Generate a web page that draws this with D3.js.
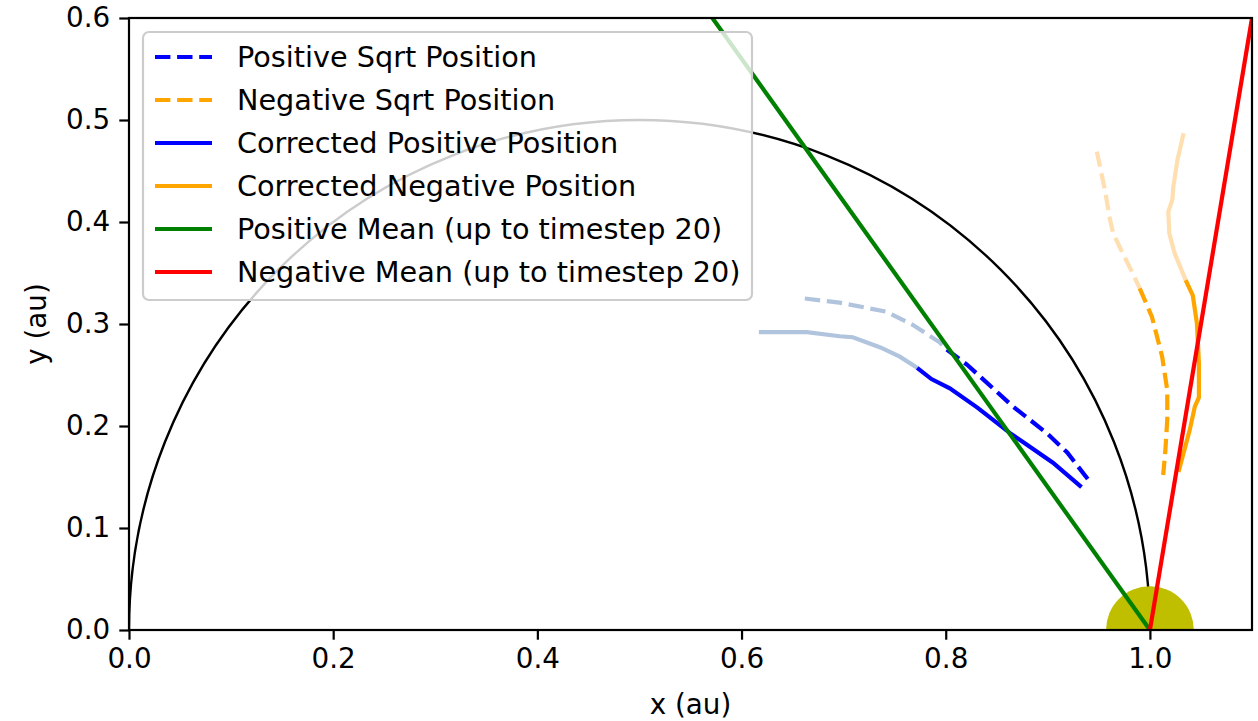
<!DOCTYPE html>
<html>
<head>
<meta charset="utf-8">
<script src="https://cdn.jsdelivr.net/npm/d3@7"></script>
<style>
  body { margin: 0; background: #fff; }
  text { font-family: "DejaVu Sans", sans-serif; fill: #000; }
</style>
</head>
<body>
<script>
//orbit positions plot, positive / negative sqrt solutions

//positive sqrt position [x, y] in au
var posSqrt = [[0.662, 0.325], [0.696, 0.321], [0.742, 0.312], [0.768, 0.299], [0.794, 0.282],
    [0.801, 0.275], [0.821, 0.260], [0.866, 0.219], [0.899, 0.193], [0.919, 0.174], [0.943, 0.143]];
//negative sqrt position
var negSqrt = [[0.948, 0.469], [0.956, 0.431], [0.961, 0.402], [0.964, 0.389], [0.973, 0.370],
    [0.983, 0.350], [0.990, 0.335], [1.002, 0.307], [1.012, 0.268], [1.017, 0.235],
    [1.017, 0.206], [1.015, 0.174], [1.013, 0.152]];
//corrected positive position
var posCorr = [[0.617, 0.292], [0.664, 0.292], [0.696, 0.288], [0.709, 0.287], [0.736, 0.277],
    [0.755, 0.268], [0.772, 0.257], [0.786, 0.246], [0.804, 0.237], [0.831, 0.218],
    [0.863, 0.193], [0.876, 0.184], [0.905, 0.164], [0.933, 0.140]];
//corrected negative position
var negCorr = [[1.033, 0.487], [1.027, 0.461], [1.023, 0.435], [1.022, 0.422], [1.018, 0.410],
    [1.019, 0.389], [1.024, 0.370], [1.035, 0.343], [1.042, 0.328], [1.046, 0.301],
    [1.048, 0.262], [1.048, 0.228], [1.044, 0.219], [1.039, 0.196], [1.032, 0.170], [1.028, 0.155]];

//index where the faded (early) part stops and the full colour starts
var posSqrtSplit = 5,
    negSqrtSplit = 6,
    posCorrSplit = 6,
    negCorrSplit = 7;

//mean direction lines (up to timestep 20), from the sun outwards
var posMean = [[1.0, 0.0], [0.5, 0.7]];
var negMean = [[1.0, 0.0], [1.1, 0.6]];

//reference orbit (circle centre and radius) and sun
var orbitCentre = [0.5, 0.0], orbitRadius = 0.5;
var sunPos = [1.0, 0.0], sunRadius = 0.043;

var xTicks = [0.0, 0.2, 0.4, 0.6, 0.8, 1.0];
var yTicks = [0.0, 0.1, 0.2, 0.3, 0.4, 0.5, 0.6];

var legendLabels = ["Positive Sqrt Position", "Negative Sqrt Position", "Corrected Positive Position",
    "Corrected Negative Position", "Positive Mean (up to timestep 20)", "Negative Mean (up to timestep 20)"];
var legendColors = ["#0000ff", "#ffa500", "#0000ff", "#ffa500", "#008000", "#ff0000"];
var legendDashed = [true, true, false, false, false, false];

(function(){

    var width = 1258,
        height = 721;

    var svg = d3.select("body")
        .append("svg")
        .attr("width", width)
        .attr("height", height);

    //plot area in pixels
    var left = 129, right = 1252, top = 18, bottom = 630;

    var x = d3.scaleLinear().domain([0, 1.1]).range([left, right]);
    var y = d3.scaleLinear().domain([0, 0.6]).range([bottom, top]);

    svg.append("clipPath")
        .attr("id", "plotClip")
        .append("rect")
        .attr("x", left)
        .attr("y", top)
        .attr("width", right - left)
        .attr("height", bottom - top);

    var plot = svg.append("g").attr("clip-path", "url(#plotClip)");

    var line = d3.line()
        .x(function(d){ return x(d[0]); })
        .y(function(d){ return y(d[1]); });

    //orbit circle (upper half shows)
    var rx = x(orbitCentre[0] + orbitRadius) - x(orbitCentre[0]),
        ry = y(orbitCentre[1]) - y(orbitCentre[1] + orbitRadius);
    plot.append("ellipse")
        .attr("cx", x(orbitCentre[0]))
        .attr("cy", y(orbitCentre[1]))
        .attr("rx", rx)
        .attr("ry", ry)
        .attr("fill", "none")
        .attr("stroke", "#000")
        .attr("stroke-width", 2.4);

    //sun
    plot.append("ellipse")
        .attr("cx", x(sunPos[0]))
        .attr("cy", y(sunPos[1]))
        .attr("rx", x(sunPos[0] + sunRadius) - x(sunPos[0]))
        .attr("ry", y(sunPos[1]) - y(sunPos[1] + sunRadius))
        .attr("fill", "#bfbf00");

    //trajectories: faded early part, then full colour
    var tracks = [
        {data: posSqrt, split: posSqrtSplit, faded: "#b0c4de", color: "#0000ff", dash: true},
        {data: negSqrt, split: negSqrtSplit, faded: "#ffdeb0", color: "#ffa500", dash: true},
        {data: posCorr, split: posCorrSplit, faded: "#b0c4de", color: "#0000ff", dash: false},
        {data: negCorr, split: negCorrSplit, faded: "#ffdeb0", color: "#ffa500", dash: false}
    ];

    tracks.forEach(function(t){
        plot.append("path")
            .datum(t.data.slice(0, t.split + 1))
            .attr("d", line)
            .attr("fill", "none")
            .attr("stroke", t.faded)
            .attr("stroke-width", 4.2)
            .attr("stroke-dasharray", t.dash ? "15.4,6.7" : null);
        plot.append("path")
            .datum(t.data.slice(t.split))
            .attr("d", line)
            .attr("fill", "none")
            .attr("stroke", t.color)
            .attr("stroke-width", 4.2)
            .attr("stroke-dasharray", t.dash ? "15.4,6.7" : null);
    });

    //mean lines
    plot.append("path")
        .datum(posMean)
        .attr("d", line)
        .attr("fill", "none")
        .attr("stroke", "#008000")
        .attr("stroke-width", 4.2);
    plot.append("path")
        .datum(negMean)
        .attr("d", line)
        .attr("fill", "none")
        .attr("stroke", "#ff0000")
        .attr("stroke-width", 4.2);

    //axes
    var xAxis = d3.axisBottom(x).tickValues(xTicks).tickFormat(d3.format(".1f")).tickSizeOuter(0).tickSize(9.7).tickPadding(9);
    var yAxis = d3.axisLeft(y).tickValues(yTicks).tickFormat(d3.format(".1f")).tickSizeOuter(0).tickSize(9.7).tickPadding(9);

    var gx = svg.append("g")
        .attr("transform", "translate(0," + bottom + ")")
        .call(xAxis);
    var gy = svg.append("g")
        .attr("transform", "translate(" + left + ",0)")
        .call(yAxis);

    [gx, gy].forEach(function(g){
        g.select(".domain").remove();
        g.selectAll(".tick line").attr("stroke", "#000").attr("stroke-width", 2.2);
        g.selectAll(".tick text").attr("font-size", 27.8).attr("font-family", "DejaVu Sans");
    });

    //spines
    svg.append("rect")
        .attr("x", left)
        .attr("y", top)
        .attr("width", right - left)
        .attr("height", bottom - top)
        .attr("fill", "none")
        .attr("stroke", "#000")
        .attr("stroke-width", 2.2);

    //axis labels
    svg.append("text")
        .attr("x", (left + right) / 2)
        .attr("y", 714)
        .attr("text-anchor", "middle")
        .attr("font-size", 27.8)
        .text("x (au)");
    svg.append("text")
        .attr("transform", "translate(46," + (top + bottom) / 2 + ") rotate(-90)")
        .attr("text-anchor", "middle")
        .attr("font-size", 27.8)
        .text("y (au)");

    //legend
    var legend = svg.append("g");
    legend.append("rect")
        .attr("x", 143)
        .attr("y", 32)
        .attr("width", 609)
        .attr("height", 268)
        .attr("rx", 6)
        .attr("fill", "#fff")
        .attr("fill-opacity", 0.8)
        .attr("stroke", "#cccccc")
        .attr("stroke-width", 2.2);

    var rows = legend.selectAll(".legendRow")
        .data(legendLabels)
        .enter()
        .append("g")
        .attr("class", "legendRow")
        .attr("transform", function(d, i){ return "translate(0," + (57 + i * 43) + ")"; });

    rows.append("line")
        .attr("x1", 155)
        .attr("x2", 212)
        .attr("stroke", function(d, i){ return legendColors[i]; })
        .attr("stroke-width", 4.2)
        .attr("stroke-dasharray", function(d, i){ return legendDashed[i] ? "15.4,6.7" : null; });

    rows.append("text")
        .attr("x", 237)
        .attr("y", 10)
        .attr("font-size", 28.7)
        .text(function(d){ return d; });

})();
</script>
</body>
</html>
